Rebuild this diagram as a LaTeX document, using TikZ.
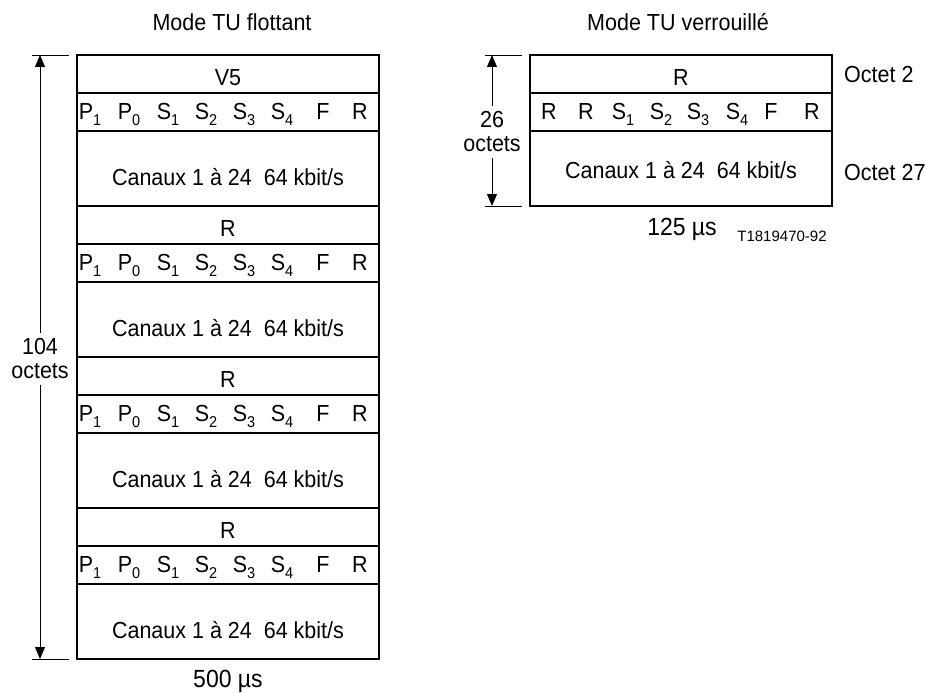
\documentclass[tikz,border=0pt]{standalone}
\usepackage{fontspec}
\usepackage{graphicx}
\setmainfont{Liberation Sans}
\usetikzlibrary{arrows.meta}
\newcommand{\subx}[1]{\raisebox{-0.28em}{\fontsize{14.5}{14.5}\selectfont #1}}
\newcommand{\T}[1]{\scalebox{1}[1.08]{#1}}
\begin{document}
\begin{tikzpicture}[x=1pt,y=-1pt,
  every node/.style={inner sep=0pt},
  txt/.style={font=\fontsize{21.5}{25}\selectfont, anchor=base},
  big/.style={font=\fontsize{23}{25}\selectfont, anchor=base},
  small/.style={font=\fontsize{15}{18}\selectfont, anchor=base},
  lbl/.style={font=\fontsize{21.5}{24}\selectfont, align=center, inner xsep=2pt, inner ysep=6pt},
  frame/.style={line width=1.5pt},
  tick/.style={line width=0.8pt},
  arr/.style={line width=1pt, -{Triangle[width=10pt,length=12pt]}}]
\useasboundingbox (0,0) rectangle (926,693);

% titles
\node[txt] (t1) at (232,31) {\T{Mode TU flottant}};
\node[txt] (t2) at (678,31) {\T{Mode TU verrouillé}};

% left frame
\draw[frame] (77,55) rectangle (379,659);
\foreach \k/\t in {0/V5,1/R,2/R,3/R}{
  \pgfmathsetmacro{\yy}{55+151*\k}
  \ifnum\k>0 \draw[frame] (77,\yy) -- (379,\yy); \fi
  \draw[frame] (77,{\yy+38}) -- (379,{\yy+38});
  \draw[frame] (77,{\yy+76}) -- (379,{\yy+76});
  \node[txt] (top\k) at (228,{\yy+30}) {\T{\t}};
  \foreach \xx/\lab [count=\i] in {90/P\subx{1},129/P\subx{0},168/S\subx{1},206/S\subx{2},244/S\subx{3},282/S\subx{4},323/F,360/R}{
    \node[txt] (b\k-\i) at (\xx,{\yy+64}) {\T{\lab}};
  }
  \node[txt] (can\k) at (228,{\yy+130}) {\T{Canaux 1 à 24\ \ 64 kbit/s}};
}
\node[big] (d1) at (228,687) {\T{500 µs}};

% left dimension
\draw[tick] (32,55) -- (69,55);
\draw[tick] (32,659) -- (69,659);
\coordinate (ltop) at (40,55);
\coordinate (lbot) at (40,659);
\node[lbl] (lcnt) at (40,359) {\T{104}\\\T{octets}};
\draw[arr] (lcnt) -- (ltop);
\draw[arr] (lcnt) -- (lbot);

% right frame
\draw[frame] (530,55) rectangle (832,206);
\draw[frame] (530,93) -- (832,93);
\draw[frame] (530,131) -- (832,131);
\node[txt] (rtop) at (681,85) {\T{R}};
\foreach \xx/\lab [count=\i] in {549/R,586/R,623/S\subx{1},661/S\subx{2},698/S\subx{3},737/S\subx{4},771/F,812/R}{
  \node[txt] (rb-\i) at (\xx,119) {\T{\lab}};
}
\node[txt] (rcan) at (681,178) {\T{Canaux 1 à 24\ \ 64 kbit/s}};
\node[txt, anchor=base west] (o2) at (844,82) {\T{Octet 2}};
\node[txt, anchor=base west] (o27) at (844,180) {\T{Octet 27}};
\node[big] (d2) at (682,235) {\T{125 µs}};
\node[small] (ref) at (782,241) {T1819470-92};

% right dimension
\draw[tick] (485,55) -- (522,55);
\draw[tick] (485,206) -- (522,206);
\coordinate (rtopc) at (492,55);
\coordinate (rbotc) at (492,206);
\node[lbl] (rcnt) at (492,132) {\T{26}\\\T{octets}};
\draw[arr] (rcnt) -- (rtopc);
\draw[arr] (rcnt) -- (rbotc);
\end{tikzpicture}
\end{document}
